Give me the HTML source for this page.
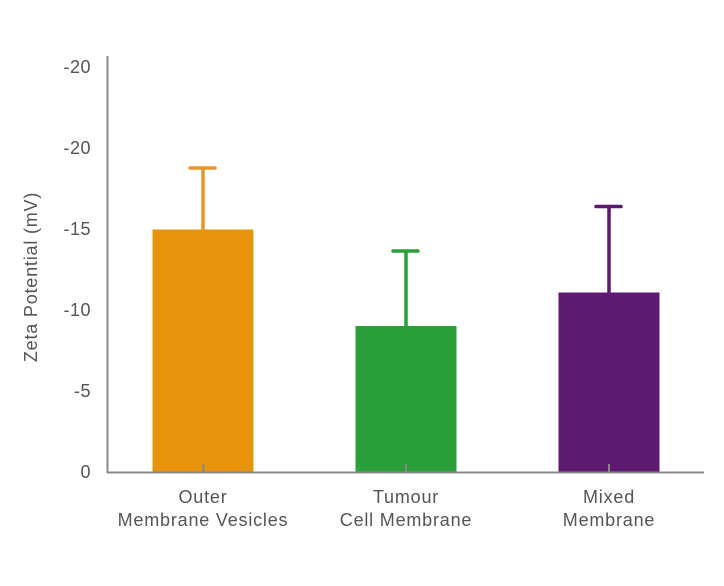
<!DOCTYPE html>
<html>
<head>
<meta charset="utf-8">
<style>
  html,body{margin:0;padding:0;background:#fff;}
  svg{display:block;}
  text{font-family:"Liberation Sans",sans-serif;fill:#555;}
</style>
</head>
<body>
<svg width="724" height="586" viewBox="0 0 724 586" xmlns="http://www.w3.org/2000/svg">
  <rect width="724" height="586" fill="#fff"/>
  <!-- bars -->
  <rect x="152.5" y="229.5" width="101" height="243" fill="#E8930C"/>
  <rect x="355.5" y="326" width="101" height="146.5" fill="#2BA03A"/>
  <rect x="558.5" y="292.5" width="101" height="180" fill="#5E1A70"/>
  <!-- error bars -->
  <g stroke-linecap="round">
    <line x1="203" y1="230" x2="203" y2="168" stroke="#E8962A" stroke-width="3.5"/>
    <line x1="190" y1="168" x2="215" y2="168" stroke="#E8962A" stroke-width="3.5"/>
    <line x1="406" y1="326" x2="406" y2="251" stroke="#2BA03A" stroke-width="3.5"/>
    <line x1="393" y1="251" x2="418" y2="251" stroke="#2BA03A" stroke-width="3.5"/>
    <line x1="609" y1="293" x2="609" y2="206.5" stroke="#5E1A70" stroke-width="3.5"/>
    <line x1="596" y1="206.5" x2="621" y2="206.5" stroke="#5E1A70" stroke-width="3.5"/>
  </g>
  <!-- axes -->
  <line x1="107.5" y1="56" x2="107.5" y2="473" stroke="#888" stroke-width="2"/>
  <line x1="107" y1="472.5" x2="704" y2="472.5" stroke="#888" stroke-width="2"/>
  <!-- x ticks -->
  <line x1="203.5" y1="464" x2="203.5" y2="472" stroke="#888" stroke-width="2"/>
  <line x1="406" y1="464" x2="406" y2="472" stroke="#888" stroke-width="2"/>
  <line x1="609" y1="464" x2="609" y2="472" stroke="#888" stroke-width="2"/>
  <!-- y tick labels -->
  <g font-size="18" text-anchor="end" letter-spacing="0.5">
    <text x="91" y="73">-20</text>
    <text x="91" y="154">-20</text>
    <text x="91" y="235">-15</text>
    <text x="91" y="316">-10</text>
    <text x="91" y="397">-5</text>
    <text x="91" y="478">0</text>
  </g>
  <!-- y axis title -->
  <text transform="translate(37,277) rotate(-90)" font-size="18" letter-spacing="0.8" text-anchor="middle">Zeta Potential (mV)</text>
  <!-- x labels -->
  <g font-size="18" text-anchor="middle" letter-spacing="0.8">
    <text x="203" y="503">Outer</text>
    <text x="203" y="526">Membrane Vesicles</text>
    <text x="406" y="503">Tumour</text>
    <text x="406" y="526">Cell Membrane</text>
    <text x="609" y="503">Mixed</text>
    <text x="609" y="526">Membrane</text>
  </g>
</svg>
</body>
</html>
